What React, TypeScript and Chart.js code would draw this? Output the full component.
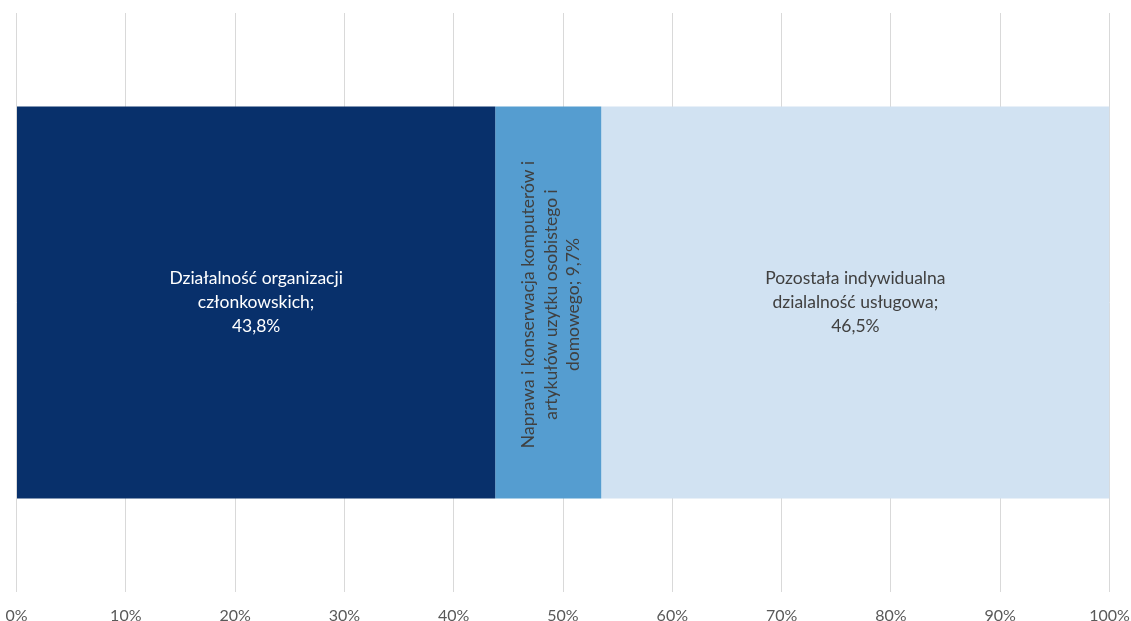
import React, { useEffect, useRef } from "react";
import { Chart, registerables } from "chart.js";

Chart.register(...registerables);

const categories = [""];
const seriesNames = [
  "Działalność organizacji członkowskich",
  "Naprawa i konserwacja komputerów i artykułów uzytku osobistego i domowego",
  "Pozostała indywidualna dzialalność usługowa",
];
const seriesValues = [43.8, 9.7, 46.5];
const seriesLabelLines = [
  ["Działalność organizacji", "członkowskich;", "43,8%"],
  ["Naprawa i konserwacja komputerów i", "artykułów uzytku osobistego i", "domowego; 9,7%"],
  ["Pozostała indywidualna", "dzialalność usługowa;", "46,5%"],
];
const seriesColors = ["#08306B", "#559DD0", "#D1E2F2"];
const labelColors = ["#FFFFFF", "#404040", "#404040"];
const labelRotated = [false, true, false];
const xTicks = [0, 10, 20, 30, 40, 50, 60, 70, 80, 90, 100];

const FONT = "Lato";

const labelPlugin = {
  id: "segmentLabels",
  afterDatasetsDraw(chart: any) {
    const ctx = chart.ctx;
    chart.data.datasets.forEach((ds: any, i: number) => {
      const meta = chart.getDatasetMeta(i);
      meta.data.forEach((bar: any) => {
        const props = bar.getProps(["x", "y", "base", "height"], true);
        const rot = labelRotated[i];
        const cx = (props.x + props.base) / 2 + (rot ? 3 : 0);
        const cy = props.y + (rot ? 2 : 0);
        const lines = seriesLabelLines[i];
        ctx.save();
        ctx.font = `17.5px ${FONT}`;
        ctx.fillStyle = labelColors[i];
        ctx.textAlign = "center";
        ctx.textBaseline = "middle";
        ctx.translate(cx, cy);
        if (rot) ctx.rotate(-Math.PI / 2);
        const lineH = rot ? 22.5 : 24;
        const start = -((lines.length - 1) * lineH) / 2;
        lines.forEach((t, k) => ctx.fillText(t, 0, start + k * lineH));
        ctx.restore();
      });
    });
  },
};

export default function App() {
  const ref = useRef<HTMLCanvasElement>(null);
  useEffect(() => {
    if (!ref.current) return;
    const chart = new Chart(ref.current, {
      type: "bar",
      data: {
        labels: categories,
        datasets: seriesValues.map((v, i) => ({
          label: seriesNames[i],
          data: [v],
          backgroundColor: seriesColors[i],
          borderWidth: 0,
          barPercentage: 1,
          categoryPercentage: 0.677,
        })),
      },
      options: {
        indexAxis: "y",
        animation: false,
        responsive: true,
        maintainAspectRatio: false,
        layout: { padding: { left: 16.5, right: 21.5, top: 13, bottom: 0 } },
        plugins: {
          legend: { display: false },
          tooltip: { enabled: false },
        },
        scales: {
          x: {
            stacked: true,
            min: 0,
            max: 100,
            afterBuildTicks: (axis: any) => {
              axis.ticks = xTicks.map((v) => ({ value: v }));
            },
            afterFit: (axis: any) => {
              axis.height = 29;
              axis.paddingLeft = 0;
              axis.paddingRight = 0;
            },
            border: { display: false },
            grid: { color: "#D9D9D9", lineWidth: 1, drawTicks: false },
            ticks: {
              padding: 14,
              color: "#595959",
              font: { family: FONT, size: 16 },
              callback: (v: any) => `${v}%`,
            },
          },
          y: {
            stacked: true,
            display: false,
          },
        },
      },
      plugins: [labelPlugin],
    });
    return () => chart.destroy();
  }, []);
  return (
    <div style={{ position: "absolute", left: 0, top: 0, width: 1131, height: 621 }}>
      <canvas ref={ref} />
    </div>
  );
}
